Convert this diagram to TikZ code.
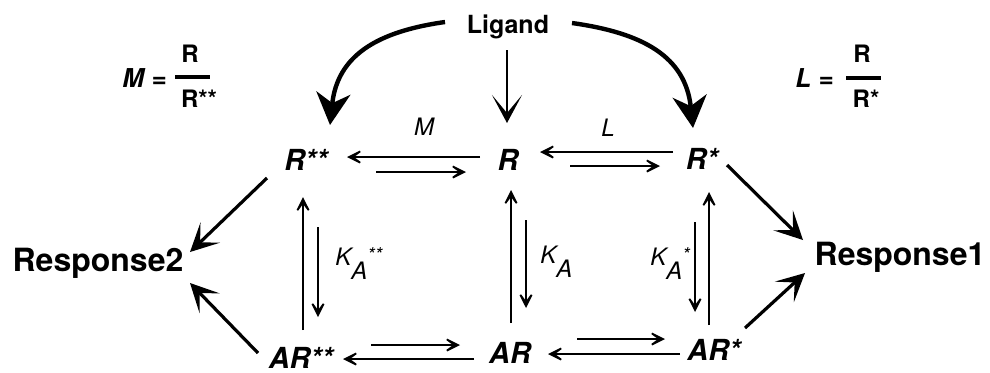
\documentclass[tikz,border=0pt]{standalone}
\usepackage{fontspec}
\setmainfont{TeX Gyre Heros}
\usetikzlibrary{arrows.meta, calc}
\newcommand{\kconst}[1]{K\raisebox{-7pt}{A}\raisebox{2pt}{\fontsize{9.5}{9.5}\selectfont #1}}
\tikzset{
    species/.style={font=\fontsize{14.5}{16}\selectfont\bfseries\itshape, inner sep=0pt},
    outcome/.style={font=\fontsize{16}{18}\selectfont\bfseries, inner sep=0pt},
    ratelabel/.style={font=\fontsize{12}{14}\selectfont\itshape, inner sep=0pt},
    ratio/.style={font=\fontsize{12}{14}\selectfont\bfseries, inner sep=0pt},
    rationame/.style={font=\fontsize{13}{15}\selectfont\bfseries\itshape, inner sep=0pt},
    eqarrow/.style={line width=1.3pt, -{Stealth[length=11pt,width=11pt,inset=7.5pt]}},
    resparrow/.style={line width=1.6pt, -{Stealth[length=14pt,width=14pt,inset=7pt]}},
    bindarrow/.style={line width=2.2pt, -{Stealth[length=16pt,width=17pt,inset=5pt]}},
    droparrow/.style={line width=1.3pt, -{Stealth[length=14pt,width=15pt,inset=9pt]}},
    fracbar/.style={line width=1.8pt}
}
\begin{document}
\begin{tikzpicture}[x=0.5pt, y=-0.5pt]
        \useasboundingbox (0,0) rectangle (990,372);
        % Nodes
        \node (lig) [outcome, font=\fontsize{12.5}{14}\selectfont\bfseries, anchor=base] at (508,33) {Ligand};
        \node (Rss) [species, anchor=base] at (306,170) {R**};
        \node (R) [species, anchor=base] at (508,170) {R};
        \node (Rs) [species, anchor=base] at (702,169) {R*};
        \node (ARss) [species, anchor=base] at (301,368) {AR**};
        \node (AR) [species, anchor=base] at (510,363) {AR};
        \node (ARs) [species, anchor=base] at (714,360) {AR*};
        \node (resp2) [outcome, anchor=base] at (98,271) {Response2};
        \node (resp1) [outcome, anchor=base] at (900,265) {Response1};

        % Ratio definitions
        \node (mname) [rationame, anchor=base west] at (122,87) {M =};
        \node (mnum) [ratio, anchor=base] at (190,62) {R};
        \node (mden) [ratio, anchor=base] at (199,107) {R**};
        \draw [fracbar] ($(mnum.base)+(-15,15)$) -- ($(mnum.base)+(20,15)$);
        \node (lname) [rationame, anchor=base west] at (795,87) {L =};
        \node (lnum) [ratio, anchor=base] at (862,62) {R};
        \node (lden) [ratio, anchor=base] at (866,107) {R*};
        \draw [fracbar] ($(lnum.base)+(-16,16)$) -- ($(lnum.base)+(19,16)$);

        % Constants
        \node (mlab) [ratelabel, anchor=base] at (424,135) {M};
        \node (llab) [ratelabel, anchor=base] at (608,136) {L};
        \node (kss) [ratelabel, anchor=base west] at (335,265) {\kconst{**}};
        \node (k) [ratelabel, anchor=base west] at (540,263) {\kconst{}};
        \node (ks) [ratelabel, anchor=base west] at (650,265) {\kconst{*}};

        % Ligand arrows
        \draw [droparrow] ($(lig.base)+(-1,17)$) -- ($(R.base)+(-1,-47)$);
        \draw [bindarrow] ($(lig.base)+(-63,-11)$) to[out=188, in=84, looseness=1.15] ($(Rss.base)+(24,-45)$);
        \draw [bindarrow] ($(lig.base)+(64,-10)$) to[out=-8, in=96, looseness=1.15] ($(Rs.base)+(-9,-41)$);

        % Horizontal equilibria
        \draw [eqarrow] ($(R.base)+(-28,-13)$) -- ($(Rss.base)+(41,-13)$);
        \draw [eqarrow] ($(Rss.base)+(70,2)$) -- ($(R.base)+(-42,2)$);
        \draw [eqarrow] ($(Rs.base)+(-29,-17)$) -- ($(R.base)+(32,-18)$);
        \draw [eqarrow] ($(R.base)+(62,-4)$) -- ($(Rs.base)+(-42,-3)$);
        \draw [eqarrow] ($(ARss.base)+(70,-23)$) -- ($(AR.base)+(-50,-18)$);
        \draw [eqarrow] ($(AR.base)+(-36,-4)$) -- ($(ARss.base)+(42,-9)$);
        \draw [eqarrow] ($(AR.base)+(67,-24)$) -- ($(ARs.base)+(-49,-21)$);
        \draw [eqarrow] ($(ARs.base)+(-34,-6)$) -- ($(AR.base)+(38,-9)$);

        % Vertical equilibria
        \draw [eqarrow] ($(ARss.base)+(2,-38)$) -- ($(Rss.base)+(-3,27)$);
        \draw [eqarrow] ($(Rss.base)+(12,57)$) -- ($(ARss.base)+(17,-51)$);
        \draw [eqarrow] ($(AR.base)+(1,-40)$) -- ($(R.base)+(3,20)$);
        \draw [eqarrow] ($(R.base)+(18,50)$) -- ($(AR.base)+(16,-55)$);
        \draw [eqarrow] ($(ARs.base)+(-5,-35)$) -- ($(Rs.base)+(7,23)$);
        \draw [eqarrow] ($(Rs.base)+(-7,53)$) -- ($(ARs.base)+(-19,-48)$);

        % Responses
        \draw [resparrow] ($(Rss.base)+(-39,8)$) -- ($(resp2.base)+(92,-19)$);
        \draw [resparrow] ($(ARss.base)+(-43,-15)$) -- ($(resp2.base)+(92,12)$);
        \draw [resparrow] ($(Rs.base)+(25,-4)$) -- ($(resp1.base)+(-97,-25)$);
        \draw [resparrow] ($(ARs.base)+(31,-32)$) -- ($(resp1.base)+(-95,8)$);
    \end{tikzpicture}
\end{document}
